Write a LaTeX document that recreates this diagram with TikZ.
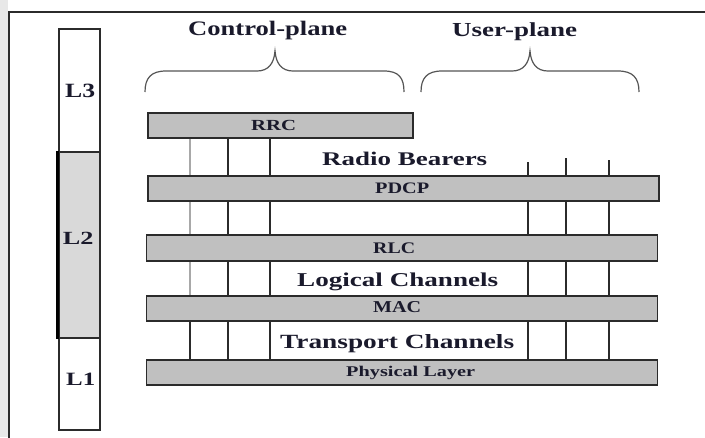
\documentclass[tikz,border=0pt]{standalone}
\usepackage{fontspec}
\setmainfont{Liberation Serif}
\usepackage{graphicx}

\definecolor{barfill}{HTML}{C0C0C0}
\definecolor{barline}{HTML}{2B2B2B}
\definecolor{lfill}{HTML}{D9D9D9}
\definecolor{ink}{HTML}{1A1A2C}
\definecolor{faint}{HTML}{A8A8A8}

% text squeezed/stretched into a measured box: width, height, text
\newcommand\fitlabel[3]{\resizebox{#1pt}{#2pt}{\bfseries #3}}

\tikzset{
  layerbar/.style={draw=barline, fill=barfill, line width=1.6pt, inner sep=0pt},
  lbox/.style={draw=barline, line width=1.2pt, inner sep=0pt, minimum width=41pt},
  chan/.style={draw=barline, line width=1.5pt},
  lbl/.style={anchor=base west, inner sep=0pt, text=ink},
  brace/.style={draw=barline!80, line width=1.2pt},
}

\begin{document}
\begin{tikzpicture}[x=1pt, y=-1pt]
\useasboundingbox (0,0) rectangle (705,437);
\fill[white] (0,0) rectangle (705,437);
\fill[gray!18] (0,0) rectangle (8,437);

% outer frame
\draw[barline, line width=1.8pt] (9,440) -- (9,12) -- (710,12);

% layer column
\node[lbox, minimum height=123pt, fill=white] (l3) at (79.5,90.5) {};
\node[lbox, minimum height=186pt, fill=lfill] (l2) at (79.5,245) {};
\node[lbox, minimum height=92pt, fill=white] (l1) at (79.5,384) {};
\draw[black, line width=2.6pt] ([xshift=-1pt]l2.north west) -- ([xshift=-1pt]l2.south west);
\node[lbl] (l3t) at (65,97.7) {\fitlabel{30}{13.4}{L3}};
\node[lbl] (l2t) at (62.7,244.3) {\fitlabel{30.6}{12.3}{L2}};
\node[lbl] (l1t) at (66,385.7) {\fitlabel{29}{12.4}{L1}};

% channel line positions
\coordinate (c1) at (190,0);
\coordinate (c2) at (228,0);
\coordinate (c3) at (270,0);
\coordinate (u1) at (528,162);
\coordinate (u2) at (566,158);
\coordinate (u3) at (609,160);

% protocol bars
\node[layerbar, minimum width=265pt, minimum height=25pt] (rrc)  at (280.5,125.5) {};
\node[layerbar, minimum width=511pt, minimum height=25pt] (pdcp) at (403.5,188.5) {};
\node[layerbar, minimum width=511pt, minimum height=26pt] (rlc)  at (402,248) {};
\node[layerbar, minimum width=511pt, minimum height=25pt] (mac)  at (402,308.5) {};
\node[layerbar, minimum width=511pt, minimum height=25pt] (phy)  at (402,372.5) {};

% control-plane channels
\draw[faint, line width=1.5pt] (rrc.south -| c1) -- (pdcp.north -| c1);
\draw[faint, line width=1.5pt] (pdcp.south -| c1) -- (rlc.north -| c1);
\draw[faint, line width=1.5pt] (rlc.south -| c1) -- (mac.north -| c1);
\draw[chan] (mac.south -| c1) -- (phy.north -| c1);
\foreach \c in {c2,c3}{
  \draw[chan] (rrc.south -| \c) -- (pdcp.north -| \c);
  \draw[chan] (pdcp.south -| \c) -- (rlc.north -| \c);
  \draw[chan] (rlc.south -| \c) -- (mac.north -| \c);
  \draw[chan] (mac.south -| \c) -- (phy.north -| \c);
}
% user-plane channels
\foreach \u in {u1,u2,u3}{
  \draw[chan] (\u) -- (pdcp.north -| \u);
  \draw[chan] (pdcp.south -| \u) -- (rlc.north -| \u);
  \draw[chan] (rlc.south -| \u) -- (mac.north -| \u);
  \draw[chan] (mac.south -| \u) -- (phy.north -| \u);
}

% bar labels
\node[lbl] (rrct)  at (251,130)   {\fitlabel{45}{10.2}{RRC}};
\node[lbl] (pdcpt) at (375,193.3) {\fitlabel{54}{10.6}{PDCP}};
\node[lbl] (rlct)  at (373,253)   {\fitlabel{42}{10.7}{RLC}};
\node[lbl] (mact)  at (373,312.3) {\fitlabel{48}{11}{MAC}};
\node[lbl] (phyt)  at (346,376)   {\fitlabel{129}{10.3}{Physical Layer}};

% channel group labels
\node[lbl] (rb) at (322,165)   {\fitlabel{165}{13.4}{Radio Bearers}};
\node[lbl] (lc) at (297,286.3) {\fitlabel{201}{13.6}{Logical Channels}};
\node[lbl] (tc) at (280,348.3) {\fitlabel{234}{14}{Transport Channels}};

% plane titles and braces
\node[lbl] (cp) at (188,35) {\fitlabel{159}{14.3}{Control-plane}};
\node[lbl] (up) at (452,36) {\fitlabel{125}{13.8}{User-plane}};

\draw[brace] (145,92) .. controls (145,78) and (151,71) .. (166,71) -- (257,71)
  .. controls (268,71) and (274,64) .. (275,51)
  .. controls (276,64) and (282,71) .. (293,71) -- (384,71)
  .. controls (399,71) and (404,78) .. (404,92);
\draw[brace] (421,92) .. controls (421,78) and (427,71) .. (442,71) -- (512,71)
  .. controls (523,71) and (529,64) .. (530,51)
  .. controls (531,64) and (537,71) .. (548,71) -- (618,71)
  .. controls (633,71) and (639,78) .. (639,92);
\end{tikzpicture}
\end{document}
